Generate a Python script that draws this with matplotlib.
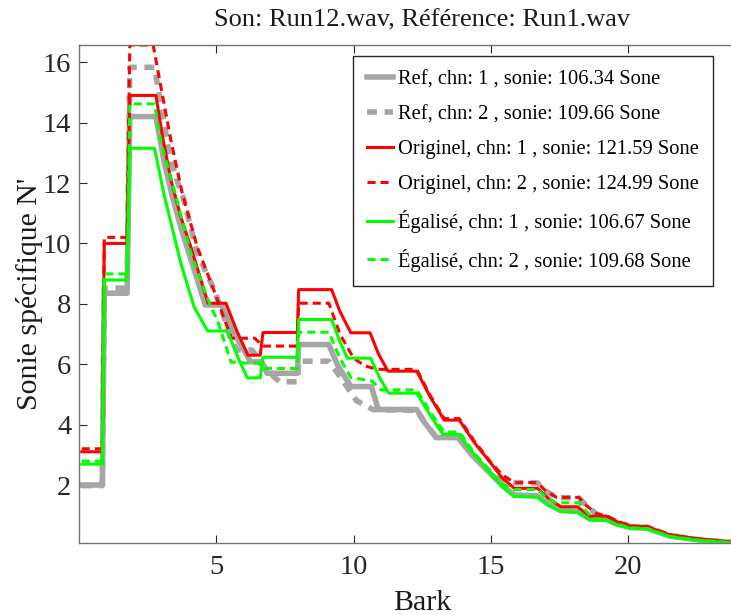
import matplotlib
matplotlib.use('Agg')
import matplotlib.pyplot as plt

# Specific loudness (sone/Bark) per channel, sampled at the break points of each curve
bark_ref1 = [0.1, 0.85, 0.92, 1.75, 1.85, 2.8, 3.1, 3.4, 3.75, 4.1, 4.6, 5.2, 5.6, 6.25, 6.65, 6.85, 7.95, 8.0,
             9.1, 9.4, 9.9, 10.65, 10.9, 12.3, 12.6, 13.0, 13.8, 14.3, 14.9, 15.4, 15.85, 16.7, 17.1, 17.55,
             18.15, 18.6, 19.2, 19.6, 20.1, 20.7, 21.5, 22.5, 24.0]
sone_ref1 = [2.0, 2.0, 8.35, 8.35, 14.2, 14.2, 12.7, 11.55, 10.4, 9.4, 7.96, 7.96, 7.1, 6.08, 6.08, 5.7, 5.7, 6.65,
             6.65, 6.0, 5.26, 5.26, 4.5, 4.5, 4.05, 3.57, 3.57, 3.0, 2.45, 2.0, 1.67, 1.64, 1.36, 1.16,
             1.13, 0.88, 0.86, 0.7, 0.59, 0.57, 0.31, 0.19, 0.08]

bark_ref2 = [0.1, 0.85, 0.92, 1.75, 1.85, 2.75, 3.0, 3.3, 3.6, 3.8, 4.3, 4.92, 5.2, 5.5, 5.75, 6.3, 6.6, 6.9, 7.3,
             7.95, 8.0, 9.1, 9.5, 10.1, 10.7, 12.3, 12.6, 13.0, 13.8, 14.3, 14.9, 15.4, 15.85, 16.7, 17.0,
             17.4, 18.2, 18.5, 18.85, 19.2, 19.6, 20.1, 20.7, 21.5, 22.5, 24.0]
sone_ref2 = [1.98, 1.98, 8.52, 8.52, 15.83, 15.83, 14.5, 12.9, 12.0, 11.5, 9.7, 8.46, 7.8, 6.9, 6.47, 6.47, 6.1,
             5.75, 5.42, 5.42, 6.1, 6.1, 5.6, 4.8, 4.5, 4.47, 4.05, 3.6, 3.6, 3.05, 2.5, 2.2, 2.08, 2.07, 1.8,
             1.58, 1.58, 1.3, 1.03, 0.95, 0.78, 0.62, 0.6, 0.33, 0.2, 0.08]

bark_orig1 = [0.1, 0.85, 0.92, 1.75, 1.85, 2.8, 3.05, 3.35, 3.7, 4.07, 4.7, 5.35, 5.75, 6.15, 6.6, 6.7, 7.95, 8.0,
              9.2, 9.5, 9.9, 10.6, 10.9, 11.25, 12.3, 12.8, 13.3, 13.85, 14.4, 15.0, 15.4, 15.85, 16.7, 17.1,
              17.55, 18.15, 18.6, 19.2, 19.6, 20.1, 20.7, 21.5, 22.5, 24.0]
sone_orig1 = [3.1, 3.1, 10.0, 10.0, 14.9, 14.9, 13.5, 12.1, 10.9, 9.89, 8.02, 8.02, 7.1, 6.3, 6.3, 7.05, 7.05, 8.47,
              8.47, 7.75, 7.04, 7.04, 6.35, 5.77, 5.77, 4.9, 4.15, 4.15, 3.4, 2.72, 2.25, 1.89, 1.89, 1.55,
              1.28, 1.28, 0.97, 0.97, 0.78, 0.63, 0.62, 0.35, 0.22, 0.09]

bark_orig2 = [0.1, 0.85, 0.92, 1.75, 1.85, 2.7, 3.0, 3.35, 3.75, 4.3, 4.95, 5.55, 6.4, 6.7, 7.95, 8.0, 9.1, 9.5,
              10.0, 10.4, 10.85, 12.3, 12.8, 13.3, 13.85, 14.4, 15.0, 15.4, 15.85, 16.7, 17.0, 17.4, 18.2,
              18.5, 18.85, 19.2, 19.6, 20.1, 20.7, 21.5, 22.5, 24.0]
sone_orig2 = [3.2, 3.2, 10.2, 10.2, 16.57, 16.57, 15.1, 13.4, 11.7, 9.9, 8.35, 6.86, 6.86, 6.6, 6.6, 8.02, 8.02, 7.0,
              6.2, 5.95, 5.83, 5.83, 4.95, 4.2, 4.2, 3.45, 2.75, 2.35, 2.08, 2.08, 1.8, 1.59, 1.59,
              1.3, 1.05, 0.98, 0.8, 0.65, 0.63, 0.36, 0.22, 0.09]

bark_eq1 = [0.1, 0.85, 0.92, 1.75, 1.85, 2.75, 3.1, 3.71, 4.19, 4.68, 5.4, 5.8, 6.13, 6.6, 6.7, 7.95, 8.0, 9.2,
            9.5, 9.77, 10.62, 10.95, 11.28, 12.3, 12.8, 13.25, 13.83, 14.4, 14.98, 15.4, 15.83, 16.68, 17.1,
            17.53, 18.13, 18.62, 19.2, 19.6, 20.07, 20.68, 21.53, 22.5, 24.0]
sone_eq1 = [2.69, 2.69, 8.79, 8.79, 13.15, 13.15, 11.6, 9.34, 7.9, 7.1, 7.1, 6.2, 5.55, 5.55, 6.23, 6.23, 7.48, 7.48,
            6.75, 6.2, 6.2, 5.55, 5.04, 5.04, 4.3, 3.68, 3.68, 3.0, 2.39, 1.95, 1.62, 1.6, 1.33,
            1.12, 1.1, 0.84, 0.83, 0.68, 0.57, 0.55, 0.29, 0.17, 0.07]

bark_eq2 = [0.1, 0.85, 0.92, 1.75, 1.85, 2.75, 3.0, 3.53, 4.1, 4.8, 5.04, 5.53, 6.0, 6.55, 6.68, 7.95, 8.0, 9.1,
            9.5, 9.9, 10.68, 11.0, 12.3, 12.8, 13.3, 13.85, 14.4, 14.98, 15.4, 15.85, 16.7, 17.0, 17.35,
            18.2, 18.7, 19.2, 19.6, 20.1, 20.7, 21.5, 22.5, 24.0]
sone_eq2 = [2.79, 2.79, 8.99, 8.99, 14.62, 14.62, 13.3, 11.55, 9.6, 7.9, 7.46, 6.08, 6.04, 6.04, 5.86, 5.86, 7.06, 7.06,
            6.2, 5.56, 5.44, 5.15, 5.15, 4.4, 3.75, 3.75, 3.05, 2.45, 2.05, 1.85, 1.85, 1.6, 1.41,
            1.41, 0.9, 0.85, 0.7, 0.58, 0.56, 0.3, 0.18, 0.07]

labels = ['Ref, chn: 1 , sonie: 106.34 Sone',
          'Ref, chn: 2 , sonie: 109.66 Sone',
          'Originel, chn: 1 , sonie: 121.59 Sone',
          'Originel, chn: 2 , sonie: 124.99 Sone',
          'Égalisé, chn: 1 , sonie: 106.67 Sone',
          'Égalisé, chn: 2 , sonie: 109.68 Sone']

plt.rcParams['font.family'] = ['Liberation Serif', 'DejaVu Serif']
plt.rcParams['lines.scale_dashes'] = False

fig = plt.figure(figsize=(7.31, 6.15), dpi=100)
ax = fig.add_axes([79 / 731, 71.7 / 615, 686.5 / 731, 498.3 / 615])

gray = '#a6a6a6'
ax.plot(bark_ref1, sone_ref1, color=gray, lw=4, label=labels[0])
ax.plot(bark_ref2, sone_ref2, color=gray, lw=4, dashes=(7.2, 5.5), label=labels[1])
ax.plot(bark_orig1, sone_orig1, color='#ff0000', lw=2.2, label=labels[2])
ax.plot(bark_orig2, sone_orig2, color='#ff0000', lw=2.2, dashes=(5.8, 3.6), label=labels[3])
ax.plot(bark_eq1, sone_eq1, color='#00ff00', lw=2.2, label=labels[4])
ax.plot(bark_eq2, sone_eq2, color='#00ff00', lw=2.2, dashes=(5.8, 3.6), label=labels[5])

ax.set_xlim(0, 25)
ax.set_ylim(0.07, 16.57)
ax.set_xticks([5, 10, 15, 20])
ax.set_yticks([2, 4, 6, 8, 10, 12, 14, 16])
ax.tick_params(direction='in', top=True, right=True, length=6, width=0.8,
               labelsize=20.5, colors='0.15')
ax.tick_params(axis='x', pad=8.5)
ax.tick_params(axis='y', pad=5.5)
for s in ax.spines.values():
    s.set_color('0.45')
    s.set_linewidth(1.0)

ax.set_xlabel('Bark', fontsize=21.5, color='0.1', labelpad=7)
ax.set_ylabel("Sonie spécifique N'", fontsize=21.5, color='0.1', labelpad=0)
ax.set_title('Son: Run12.wav, Référence: Run1.wav', fontsize=19, color='0.1', pad=13)

leg = ax.legend(loc='upper right', bbox_to_anchor=(713 / 731, 1 - 56 / 615),
                bbox_transform=fig.transFigure, fontsize=14.8, frameon=True, fancybox=False,
                framealpha=1, edgecolor='0.15', borderaxespad=0, borderpad=0.68,
                labelspacing=0.76, handlelength=1.25, handletextpad=0.25)
leg.get_frame().set_linewidth(1.0)

fig.savefig('out.png', dpi=100)
